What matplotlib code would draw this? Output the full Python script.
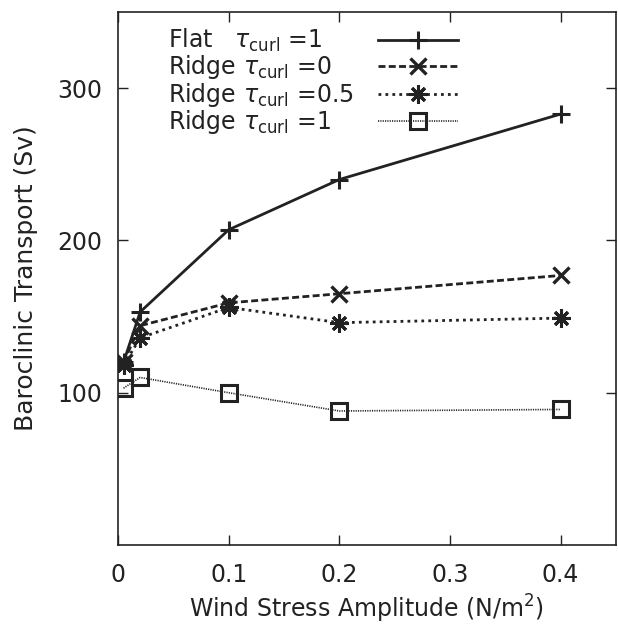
import matplotlib
matplotlib.use("Agg")
import matplotlib.pyplot as plt

plt.rcParams["font.family"] = ["DejaVu Sans"]
plt.rcParams["mathtext.fontset"] = "dejavusans"

# wind stress amplitude (N/m^2)
wind_stress = [0.005, 0.02, 0.1, 0.2, 0.4]

# baroclinic transport (Sv)
flat_curl1 = [120, 153, 207, 240, 283]
ridge_curl0 = [120, 144, 159, 165, 177]
ridge_curl05 = [118, 136, 156, 146, 149]
ridge_curl1 = [103, 110, 100, 88, 89]

labels = [
    r"Flat   $\tau_{\mathrm{curl}}$ =1",
    r"Ridge $\tau_{\mathrm{curl}}$ =0",
    r"Ridge $\tau_{\mathrm{curl}}$ =0.5",
    r"Ridge $\tau_{\mathrm{curl}}$ =1",
]

fig = plt.figure(figsize=(6.18, 6.27), dpi=100)
ax = fig.add_axes([118 / 618, 82 / 627, 498 / 618, 533 / 627])

k = "#222222"
ax.plot(wind_stress, flat_curl1, color=k, lw=2.0, ls="-",
        marker="+", ms=13, mew=2.2, label=labels[0])
ax.plot(wind_stress, ridge_curl0, color=k, lw=2.0, ls=(0, (2.5, 1.2)),
        marker="x", ms=11, mew=2.4, label=labels[1])
ax.plot(wind_stress, ridge_curl05, color=k, lw=2.0, ls=(0, (1, 1.5)),
        marker=(8, 2, 0), ms=13, mew=2.2, label=labels[2])
ax.plot(wind_stress, ridge_curl1, color=k, lw=1.2, ls=(0, (0.7, 0.7)),
        marker="s", ms=11, mew=2.2, mfc="none", label=labels[3])

ax.set_xlim(0, 0.45)
ax.set_ylim(0, 350)
ax.set_xticks([0, 0.1, 0.2, 0.3, 0.4])
ax.set_xticklabels(["0", "0.1", "0.2", "0.3", "0.4"])
ax.set_yticks([100, 200, 300])

ax.tick_params(direction="in", length=7, width=1, top=True, right=True,
               labelsize=17, colors=k)
ax.tick_params(axis="x", pad=13)
ax.tick_params(axis="y", pad=11)
for s in ax.spines.values():
    s.set_color(k)
    s.set_linewidth(1.2)

ax.set_xlabel(r"Wind Stress Amplitude (N/m$^2$)", fontsize=17, color=k, labelpad=4)
ax.set_ylabel("Baroclinic Transport (Sv)", fontsize=18, color=k, labelpad=14)

# legend with right-aligned handles; its own texts are hidden and redrawn
# left-aligned, gnuplot style
leg = ax.legend(loc="upper right", bbox_to_anchor=(458 / 618, 1 - 27 / 627),
                bbox_transform=fig.transFigure, frameon=False, markerfirst=False,
                handlelength=3.4, fontsize=17, labelspacing=-0.03,
                handletextpad=0.8, borderaxespad=0.0, borderpad=0.0)
fig.canvas.draw()
for t in leg.get_texts():
    bb = t.get_window_extent()
    t.set_alpha(0)
    ax.text(168 / 618, bb.y0 / fig.dpi / fig.get_figheight(), t.get_text(),
            transform=fig.transFigure, fontsize=17, color=k,
            ha="left", va="bottom")

fig.savefig("out.png", dpi=100)
